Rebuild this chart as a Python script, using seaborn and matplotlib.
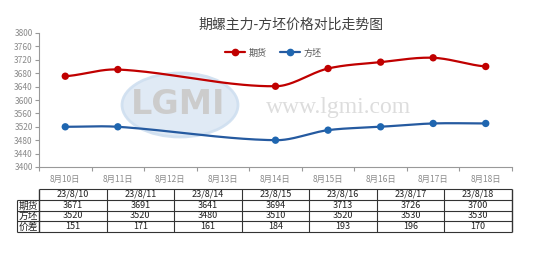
import numpy as np
import pandas as pd
import matplotlib
matplotlib.use("Agg")
import matplotlib.pyplot as plt
from matplotlib.patches import Ellipse
from matplotlib.lines import Line2D
import seaborn as sns

sns.set_theme(style="white")
plt.rcParams['font.family'] = ['Noto Sans CJK SC', 'DejaVu Sans']

# ---- data ----
day_labels = ["8月10日", "8月11日", "8月12日", "8月13日", "8月14日",
              "8月15日", "8月16日", "8月17日", "8月18日"]
trade_days = ["23/8/10", "23/8/11", "23/8/14", "23/8/15", "23/8/16", "23/8/17", "23/8/18"]
trade_idx = [0, 1, 4, 5, 6, 7, 8]
futures = [3671, 3691, 3641, 3694, 3713, 3726, 3700]
billet = [3520, 3520, 3480, 3510, 3520, 3530, 3530]
spread = [151, 171, 161, 184, 193, 196, 170]
title = "期螺主力-方坯价格对比走势图"
series_names = ["期货", "方坯"]
row_names = ["期货", "方坯", "价差"]

red = "#C00000"
blue = "#255AA0"
blue_m = "#1F66B0"

W, H = 556, 274
fig = plt.figure(figsize=(W / 100, H / 100), dpi=100)


def fx(px):
    return px / W


def fy(py):
    return 1 - py / H


ax = fig.add_axes([fx(39), fy(167), fx(512) - fx(39), fy(33) - fy(167)])

# watermark
wm = fig.add_axes([0, 0, 1, 1], zorder=0)
wm.set_xlim(0, W); wm.set_ylim(H, 0); wm.axis("off")
wm.add_patch(Ellipse((180, 105), 116, 64, facecolor="#dde8f4", edgecolor="#cfdff0", lw=2, alpha=0.9))
wm.text(178, 104, "LGMI", fontsize=24, fontweight="bold", color="#cccccc", ha="center", va="center",
        family=["DejaVu Sans"])
wm.text(266, 108, "www.lgmi.com", fontsize=17, color="#dddddd", ha="left", va="center",
        family=["Liberation Serif"])
ax.set_zorder(1)
ax.patch.set_alpha(0)


def smooth(xs, ys, n=40):
    xs = np.asarray(xs, float); ys = np.asarray(ys, float)
    k = len(xs)
    m = np.zeros(k)
    for i in range(k):
        if i == 0:
            m[i] = 0.5 * (ys[1] - ys[0]) / (xs[1] - xs[0])
        elif i == k - 1:
            m[i] = 0.5 * (ys[-1] - ys[-2]) / (xs[-1] - xs[-2])
        else:
            m[i] = (ys[i + 1] - ys[i - 1]) / (xs[i + 1] - xs[i - 1])
    ox, oy = [], []
    for i in range(k - 1):
        h = xs[i + 1] - xs[i]
        t = np.linspace(0, 1, n)
        h00 = 2 * t ** 3 - 3 * t ** 2 + 1
        h10 = t ** 3 - 2 * t ** 2 + t
        h01 = -2 * t ** 3 + 3 * t ** 2
        h11 = t ** 3 - t ** 2
        yy = h00 * ys[i] + h10 * h * m[i] + h01 * ys[i + 1] + h11 * h * m[i + 1]
        xx = xs[i] + t * h
        ox.append(xx); oy.append(yy)
    return np.concatenate(ox), np.concatenate(oy)


df = pd.DataFrame({"x": trade_idx * 2,
                   "value": futures + billet,
                   "series": [series_names[0]] * len(futures) + [series_names[1]] * len(billet)})

for name, lc in [(series_names[0], red), (series_names[1], blue)]:
    sub = df[df.series == name]
    sx, sy = smooth(sub.x.values, sub.value.values)
    ax.plot(sx, sy, color=lc, lw=1.6, zorder=2)
sns.scatterplot(data=df, x="x", y="value", hue="series", palette=[red, blue_m],
                s=28, edgecolor="none", ax=ax, legend=False, zorder=3)

ax.set_xlim(-0.5, len(day_labels) - 0.5)
ax.set_ylim(3400, 3800)
ax.set_yticks(np.arange(3400, 3801, 40))
ax.set_xticks(range(len(day_labels)))
ax.set_xticklabels(day_labels)
ax.set_xticks(np.arange(-0.5, len(day_labels), 1), minor=True)
ax.tick_params(axis="x", which="major", length=0, labelsize=6, labelcolor="#8a8a8a", pad=6)
ax.tick_params(axis="x", which="minor", length=3, color="#999999", width=0.8, direction="out")
ax.tick_params(axis="y", length=3, color="#999999", width=0.8, direction="out",
               labelsize=6, labelcolor="#8a8a8a", pad=1.5)
ax.tick_params(axis="x", bottom=True, which="both")
ax.tick_params(axis="y", left=True)
for s in ["top", "right"]:
    ax.spines[s].set_visible(False)
for s in ["left", "bottom"]:
    ax.spines[s].set_color("#999999")
    ax.spines[s].set_linewidth(0.8)
ax.set_xlabel(""); ax.set_ylabel("")
ax.grid(False)

fig.text(fx(291), fy(25), title, fontsize=10, color="#404040", ha="center", va="center")

# legend
handles = [Line2D([], [], color=red, marker="o", ms=4.5, lw=1.6),
           Line2D([], [], color=blue, marker="o", mfc=blue_m, mec=blue_m, ms=4.5, lw=1.6)]
fig.legend(handles, series_names, loc="center", bbox_to_anchor=(fx(273), fy(53)), ncol=2,
           frameon=False, fontsize=6.5, handlelength=2.2, columnspacing=1.5, handletextpad=0.4,
           labelcolor="#555555")

# table
tb = fig.add_axes([0, 0, 1, 1], zorder=2)
tb.set_xlim(0, W); tb.set_ylim(H, 0); tb.axis("off")
x0, x1 = 39, 512
lx = 17
rows_y = [189, 200, 211, 221, 232]
ncol = len(trade_days)
cw = (x1 - x0) / ncol
col_x = [x0 + i * cw for i in range(ncol + 1)]
lc_ = "#333333"
for i, y in enumerate(rows_y):
    tb.hlines(y, lx if i >= 1 else x0, x1, color=lc_, lw=0.8)
for i, x in enumerate(col_x):
    tb.vlines(x, rows_y[0], rows_y[-1], color=lc_, lw=0.8 if i not in (0, ncol) else 1.0)
tb.vlines(lx, rows_y[1], rows_y[-1], color=lc_, lw=0.8)
for j, d in enumerate(trade_days):
    cx = (col_x[j] + col_x[j + 1]) / 2
    tb.text(cx, (rows_y[0] + rows_y[1]) / 2, d, fontsize=6.5, ha="center", va="center", color="#222222")
    for r, vals in enumerate([futures, billet, spread]):
        tb.text(cx, (rows_y[r + 1] + rows_y[r + 2]) / 2, str(vals[j]), fontsize=6.5,
                ha="center", va="center", color="#222222")
for r, name in enumerate(row_names):
    tb.text((lx + x0) / 2, (rows_y[r + 1] + rows_y[r + 2]) / 2, name, fontsize=7,
            ha="center", va="center", color="#222222")

fig.savefig("out.png", dpi=100)
